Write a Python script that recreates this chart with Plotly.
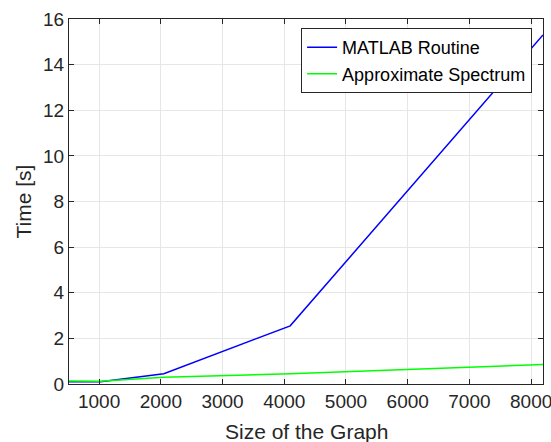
import plotly.graph_objects as go

sizes = [512, 1024, 2048, 4096, 8192]
matlab_routine = [0.10, 0.10, 0.45, 2.55, 15.3]
approx_spectrum = [0.13, 0.12, 0.30, 0.45, 0.85]

x_ticks = [1000, 2000, 3000, 4000, 5000, 6000, 7000, 8000]
y_ticks = [0, 2, 4, 6, 8, 10, 12, 14, 16]

fig = go.Figure()
fig.add_trace(go.Scatter(x=sizes, y=matlab_routine, mode="lines", name="MATLAB Routine",
                         line=dict(color="#0000ff", width=1.5)))
fig.add_trace(go.Scatter(x=sizes, y=approx_spectrum, mode="lines", name="Approximate Spectrum",
                         line=dict(color="#00ff00", width=1.5)))

axis_common = dict(showline=True, linecolor="#262626", linewidth=1, mirror="ticks",
                   ticks="inside", ticklen=5, tickcolor="#262626",
                   showgrid=True, gridcolor="#e6e6e6", gridwidth=1, zeroline=False,
                   ticklabeloverflow="allow", automargin=False,
                   tickfont=dict(family="Liberation Sans, Arial, sans-serif", size=19, color="#262626"))

fig.update_layout(
    width=551, height=442,
    margin=dict(l=69, r=8, t=19, b=58, autoexpand=False),
    plot_bgcolor="white", paper_bgcolor="white",
    font=dict(family="Liberation Sans, Arial, sans-serif", color="#262626"),
    xaxis=dict(range=[512, 8192], tickvals=x_ticks, **axis_common),
    yaxis=dict(range=[0, 16], tickvals=y_ticks, **axis_common),
    legend=dict(x=0.977, y=0.975, xanchor="right", yanchor="top", bgcolor="white",
                bordercolor="#262626", borderwidth=1,
                font=dict(size=18, color="black"), tracegroupgap=0, itemwidth=30),
    showlegend=True,
    annotations=[
        dict(text="Size of the Graph", xref="paper", yref="paper", x=0.5, y=-0.129,
             xanchor="center", yanchor="middle", showarrow=False,
             font=dict(size=21, color="#262626")),
        dict(text="Time [s]", xref="paper", yref="paper", x=-0.095, y=0.5,
             xanchor="center", yanchor="middle", showarrow=False, textangle=-90,
             font=dict(size=21, color="#262626")),
    ],
)

fig.write_html("out.html", config={"displayModeBar": False},
               post_script="document.body.style.margin='0';document.body.style.overflow='hidden';")
